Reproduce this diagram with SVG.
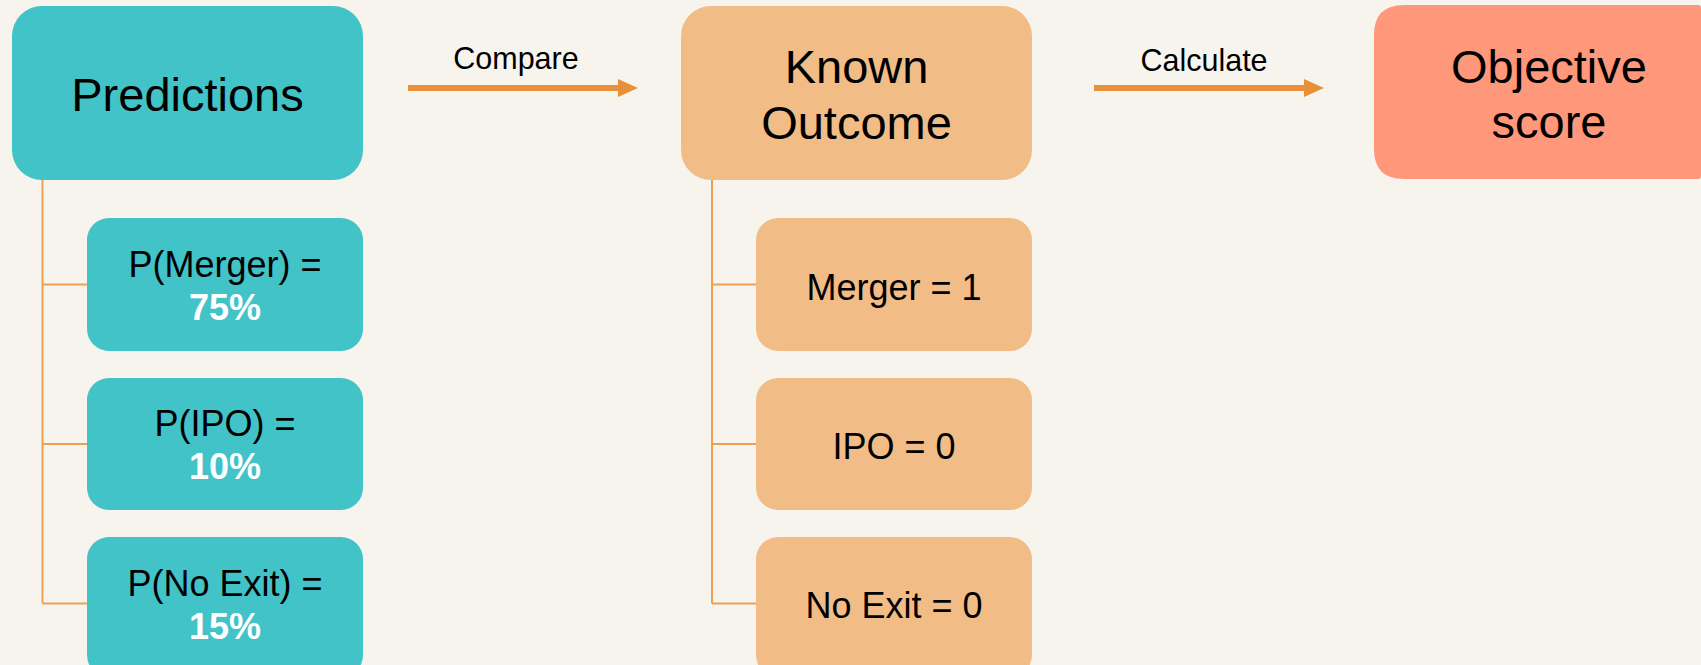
<svg xmlns="http://www.w3.org/2000/svg" width="1701" height="665" viewBox="0 0 1701 665">
<defs>
<style>
text{font-family:"Liberation Sans",Arial,sans-serif;text-anchor:middle;fill:#000}
.teal{fill:#41C3C8}
.peach{fill:#F2BC87}
.salmon{fill:#FF977A}
.big{font-size:47px}
.mid{font-size:36px}
.lbl{font-size:30.5px}
.pct{fill:#fff;font-weight:bold}
.tree{fill:none;stroke:#EE9F52;stroke-width:2}
.arr{fill:none;stroke:#E8913A;stroke-width:6}
</style>
<marker id="ah" markerWidth="20" markerHeight="18" refX="0" refY="9" orient="auto" markerUnits="userSpaceOnUse">
<path d="M0,0 L20,9 L0,18 Z" fill="#E8913A"/>
</marker>
</defs>
<rect width="1701" height="665" fill="#F7F4EE"/>
<g id="connectors">
<path class="tree" d="M42.5,180 V603.5 M42.5,284.5 H87 M42.5,444 H87 M42.5,603.5 H87"/>
<path class="tree" d="M712,180 V603.5 M712,284.5 H756 M712,444 H756 M712,603.5 H756"/>
<line class="arr" x1="408" y1="88" x2="618" y2="88" marker-end="url(#ah)"/>
<line class="arr" x1="1094" y1="88" x2="1304" y2="88" marker-end="url(#ah)"/>
<text class="lbl" x="516" y="69">Compare</text>
<text class="lbl" x="1204" y="71">Calculate</text>
</g>
<g id="predictions">
<rect class="teal" x="12" y="6" width="351" height="174" rx="30"/>
<text class="big" x="187.5" y="111">Predictions</text>
</g>
<g id="p-merger">
<rect class="teal" x="87" y="218" width="276" height="133" rx="22"/>
<text class="mid" x="225" y="277">P(Merger) =</text>
<text class="mid pct" x="225" y="320">75%</text>
</g>
<g id="p-ipo">
<rect class="teal" x="87" y="378" width="276" height="132" rx="22"/>
<text class="mid" x="225" y="436">P(IPO) =</text>
<text class="mid pct" x="225" y="479">10%</text>
</g>
<g id="p-noexit">
<rect class="teal" x="87" y="537" width="276" height="140" rx="22"/>
<text class="mid" x="225" y="596">P(No Exit) =</text>
<text class="mid pct" x="225" y="639">15%</text>
</g>
<g id="known-outcome">
<rect class="peach" x="681" y="6" width="351" height="174" rx="30"/>
<text class="big" x="856.5" y="83">Known</text>
<text class="big" x="856.5" y="139">Outcome</text>
</g>
<g id="merger">
<rect class="peach" x="756" y="218" width="276" height="133" rx="22"/>
<text class="mid" x="894" y="300">Merger = 1</text>
</g>
<g id="ipo">
<rect class="peach" x="756" y="378" width="276" height="132" rx="22"/>
<text class="mid" x="894" y="459">IPO = 0</text>
</g>
<g id="noexit">
<rect class="peach" x="756" y="537" width="276" height="140" rx="22"/>
<text class="mid" x="894" y="618">No Exit = 0</text>
</g>
<g id="objective-score">
<path class="salmon" d="M1404,5 H1698 Q1701,5 1701,8 V176 Q1701,179 1698,179 H1404 Q1374,179 1374,149 V35 Q1374,5 1404,5 Z"/>
<text class="big" x="1549" y="83">Objective</text>
<text class="big" x="1549" y="138">score</text>
</g>
</svg>
